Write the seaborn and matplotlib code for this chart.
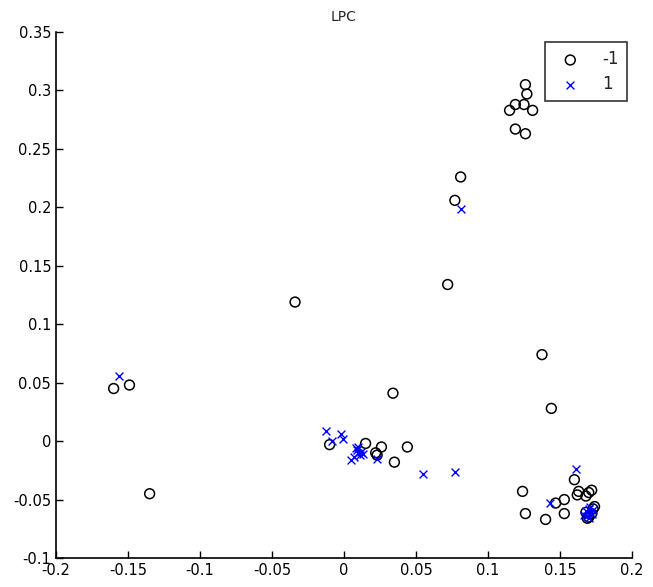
import matplotlib
matplotlib.use("Agg")
import matplotlib.pyplot as plt
import seaborn as sns
import pandas as pd

# Class -1 samples (open circles)
x_neg = [0.126, 0.127, 0.115, 0.119, 0.125, 0.131, 0.119, 0.126,
         0.081, 0.077, 0.072, -0.034, 0.1375, 0.144, 0.034,
         -0.160, -0.149, -0.135,
         -0.010, 0.015, 0.026, 0.022, 0.023, 0.035, 0.044,
         0.160, 0.163, 0.162, 0.170, 0.172, 0.168,
         0.124, 0.126, 0.140, 0.147, 0.153, 0.153,
         0.168, 0.173, 0.170, 0.172, 0.169, 0.174]
y_neg = [0.305, 0.297, 0.283, 0.288, 0.288, 0.283, 0.267, 0.263,
         0.226, 0.206, 0.134, 0.119, 0.074, 0.028, 0.041,
         0.045, 0.048, -0.045,
         -0.003, -0.002, -0.005, -0.010, -0.012, -0.018, -0.005,
         -0.033, -0.043, -0.046, -0.044, -0.042, -0.047,
         -0.043, -0.062, -0.067, -0.053, -0.050, -0.062,
         -0.061, -0.058, -0.065, -0.062, -0.066, -0.056]

# Class 1 samples (crosses)
x_pos = [0.081, -0.156, -0.0125, -0.002, -0.001, -0.008,
         0.010, 0.009, 0.011, 0.008, 0.012, 0.005, 0.007, 0.013, 0.010,
         0.023, 0.055, 0.077, 0.161, 0.143,
         0.168, 0.170, 0.172, 0.169, 0.171, 0.173, 0.167, 0.170]
y_pos = [0.199, 0.056, 0.009, 0.006, 0.002, 0.000,
         -0.010, -0.008, -0.012, -0.006, -0.009, -0.016, -0.014, -0.011, -0.005,
         -0.015, -0.028, -0.026, -0.024, -0.053,
         -0.060, -0.058, -0.062, -0.064, -0.056, -0.059, -0.063, -0.066]

x_ticks = [-0.2, -0.15, -0.1, -0.05, 0, 0.05, 0.1, 0.15, 0.2]
y_ticks = [-0.1, -0.05, 0, 0.05, 0.1, 0.15, 0.2, 0.25, 0.3, 0.35]

neg = pd.DataFrame({"x": x_neg, "y": y_neg})
pos = pd.DataFrame({"x": x_pos, "y": y_pos})

sns.set_style("white")
plt.rcParams["font.family"] = ["DejaVu Sans"]

fig = plt.figure(figsize=(6.53, 5.87), dpi=100)
ax = fig.add_axes([0.0858, 0.0494, 0.882, 0.896])

sns.scatterplot(data=neg, x="x", y="y", ax=ax, marker="o", s=50,
                facecolors="none", edgecolor="black", linewidth=1.1, label="-1")
sns.scatterplot(data=pos, x="x", y="y", ax=ax, marker="x", s=32,
                color="blue", linewidth=1.0, label="1")

ax.set_xlim(-0.2, 0.2)
ax.set_ylim(-0.1, 0.35)
ax.set_xticks(x_ticks)
ax.set_yticks(y_ticks)
ax.set_xticklabels([f"{v:g}" for v in x_ticks])
ax.set_yticklabels([f"{v:g}" for v in y_ticks])
ax.tick_params(direction="in", length=5, width=1, colors="black",
               labelsize=10.5, bottom=True, left=True)
ax.set_xlabel("")
ax.set_ylabel("")
ax.set_title("LPC", fontsize=10, pad=8)

for side in ["top", "right"]:
    ax.spines[side].set_visible(False)
for side in ["left", "bottom"]:
    ax.spines[side].set_color("black")
    ax.spines[side].set_linewidth(1.2)

leg = ax.legend(loc="upper right", bbox_to_anchor=(0.991, 0.981),
                borderaxespad=0, fontsize=12,
                frameon=True, fancybox=False, edgecolor="black",
                handletextpad=0.9, borderpad=0.5, labelspacing=0.4)
leg.get_frame().set_linewidth(1.2)

fig.savefig("out.png", dpi=100)
